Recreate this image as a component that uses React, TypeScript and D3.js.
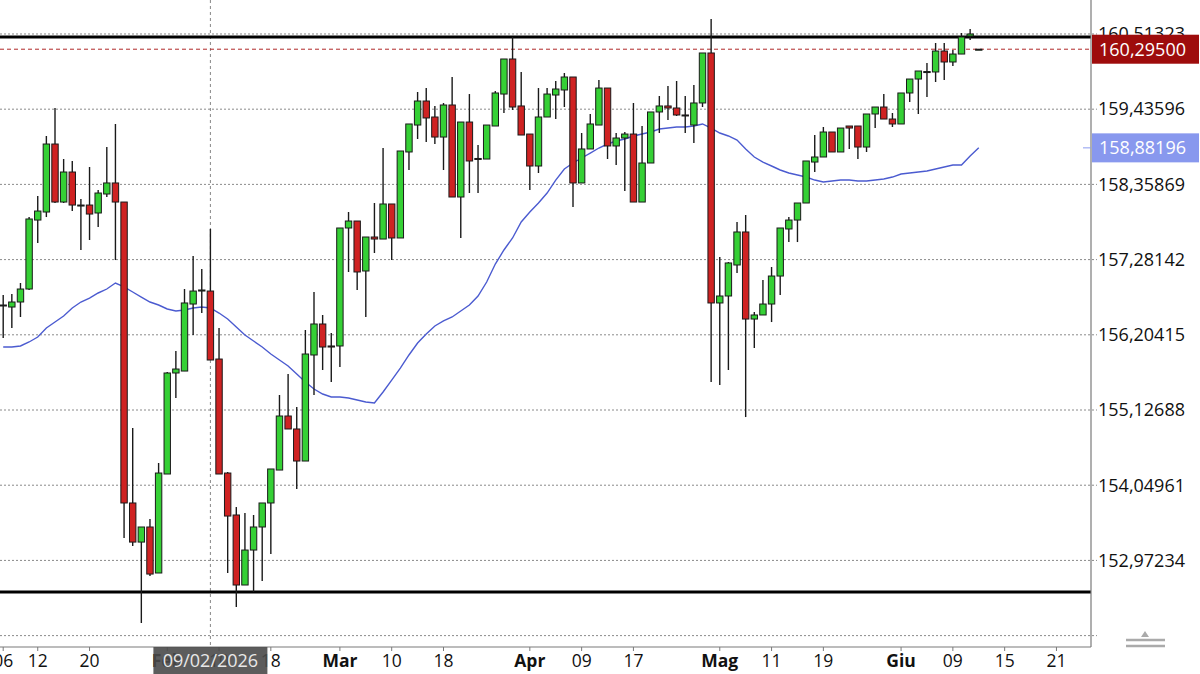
import React from "react";
import * as d3 from "d3";

// daily candles, first one is 06/01/2026 (trading days only)
const open = [
  156.617, 156.602, 156.674, 156.86, 157.848, 157.963, 158.937, 158.106, 158.536, 158.056,
  158.063, 157.949, 158.221, 158.379, 158.106, 153.795, 153.235, 153.451, 152.792, 154.21,
  155.657, 155.685, 156.645, 156.831, 156.831, 155.857, 154.224, 153.623, 152.62, 153.121,
  153.451, 153.795, 154.267, 155.041, 154.855, 154.396, 155.915, 156.359, 156.044, 156.044,
  157.734, 157.834, 157.118, 157.605, 157.576, 158.078, 157.591, 158.823, 159.209, 159.553,
  159.324, 159.037, 159.496, 158.178, 159.252, 158.73, 158.722, 159.195, 159.653, 160.155,
  159.482, 159.08, 158.622, 159.324, 159.639, 159.711, 159.897, 158.379, 158.866, 159.209,
  159.739, 158.909, 159.023, 159.08, 158.106, 158.665, 159.396, 159.482, 159.453, 159.353,
  159.209, 159.525, 160.241, 156.66, 156.76, 157.204, 157.677, 156.43, 156.488, 156.645,
  157.046, 157.72, 157.848, 158.092, 158.679, 158.751, 159.109, 158.823, 159.195, 159.195,
  158.894, 159.367, 159.467, 159.295, 159.224, 159.668, 159.868, 159.969, 159.969, 160.269,
  160.112, 160.226, 160.484, 160.295,
];
const high = [
  156.774, 156.788, 156.946, 157.891, 158.192, 159.052, 159.453, 158.722, 158.694, 158.149,
  158.608, 158.278, 158.894, 159.224, 158.106, 154.869, 153.451, 153.565, 154.368, 155.672,
  155.972, 156.86, 157.333, 157.146, 157.72, 156.301, 154.239, 153.737, 153.651, 153.623,
  153.795, 154.282, 155.342, 155.642, 155.17, 156.273, 156.817, 156.488, 156.23, 157.734,
  157.963, 157.834, 157.605, 158.092, 158.88, 158.078, 158.837, 159.224, 159.682, 159.739,
  159.482, 159.525, 159.897, 159.252, 159.653, 158.923, 159.209, 159.696, 160.155, 160.47,
  159.969, 159.08, 159.739, 159.739, 159.84, 159.954, 159.897, 159.095, 159.367, 159.854,
  159.739, 159.095, 159.109, 159.525, 159.195, 159.396, 159.625, 159.768, 159.84, 159.625,
  159.782, 160.241, 160.728, 157.318, 157.247, 157.82, 157.92, 156.531, 156.989, 157.175,
  157.734, 157.891, 158.092, 158.694, 159.066, 159.181, 159.109, 159.166, 159.195, 159.195,
  159.367, 159.467, 159.653, 159.381, 159.668, 159.868, 159.983, 160.098, 160.384, 160.384,
  160.284, 160.527, 160.585, 160.295,
];
const low = [
  156.158, 156.301, 156.459, 156.846, 157.519, 157.891, 158.092, 158.092, 157.977, 157.419,
  157.562, 157.748, 158.178, 157.275, 153.293, 153.178, 152.076, 152.749, 152.792, 154.21,
  155.299, 155.685, 156.201, 156.516, 155.843, 154.21, 152.792, 152.305, 152.62, 152.52,
  152.677, 153.064, 154.267, 154.855, 153.995, 154.396, 155.342, 155.7, 155.528, 155.743,
  157.104, 156.846, 156.459, 157.376, 157.576, 157.275, 157.591, 158.565, 159.009, 158.966,
  158.937, 158.565, 158.178, 157.591, 158.235, 158.235, 158.722, 159.195, 159.381, 159.424,
  159.066, 158.278, 158.522, 159.324, 159.295, 159.467, 158.035, 158.379, 158.866, 159.209,
  158.722, 158.636, 158.264, 158.106, 158.106, 158.665, 159.095, 159.281, 159.338, 159.095,
  158.952, 159.467, 155.528, 155.485, 155.7, 157.089, 155.026, 156.015, 156.488, 156.387,
  156.774, 157.533, 157.533, 158.092, 158.536, 158.751, 158.823, 158.823, 158.866, 158.722,
  158.823, 159.166, 159.295, 159.181, 159.224, 159.539, 159.367, 159.61, 159.825, 159.854,
  160.055, 160.226, 160.427, 160.295,
];
const close = [
  156.631, 156.674, 156.86, 157.863, 157.977, 158.937, 158.106, 158.536, 158.063, 158.063,
  157.934, 158.235, 158.379, 158.106, 153.795, 153.235, 153.451, 152.777, 154.224, 155.657,
  155.714, 156.66, 156.831, 156.846, 155.843, 154.21, 153.608, 152.62, 153.121, 153.451,
  153.795, 154.282, 155.041, 154.855, 154.396, 155.929, 156.359, 156.029, 156.029, 157.734,
  157.834, 157.104, 157.605, 157.576, 158.078, 157.591, 158.837, 159.224, 159.553, 159.31,
  159.037, 159.496, 158.178, 159.252, 158.694, 158.722, 159.209, 159.668, 160.155, 159.467,
  159.066, 158.622, 159.324, 159.653, 159.725, 159.897, 158.379, 158.866, 159.224, 159.739,
  158.909, 159.023, 159.08, 158.106, 158.665, 159.396, 159.482, 159.453, 159.353, 159.346,
  159.525, 160.241, 156.66, 156.76, 157.233, 157.677, 156.43, 156.488, 156.645, 157.046,
  157.734, 157.848, 158.092, 158.694, 158.751, 159.109, 158.823, 159.166, 159.166, 158.894,
  159.367, 159.467, 159.295, 159.224, 159.668, 159.868, 159.983, 159.975, 160.269, 160.112,
  160.226, 160.47, 160.513, 160.295,
];
// moving average as drawn on the chart
const movingAvg = [
  156.029, 156.029, 156.044, 156.101, 156.172, 156.301, 156.387, 156.473, 156.588, 156.674,
  156.731, 156.803, 156.86, 156.946, 156.889, 156.817, 156.745, 156.674, 156.631, 156.574,
  156.545, 156.559, 156.588, 156.602, 156.588, 156.516, 156.43, 156.316, 156.201, 156.115,
  156.029, 155.929, 155.843, 155.757, 155.642, 155.528, 155.428, 155.356, 155.313, 155.313,
  155.299, 155.27, 155.241, 155.227, 155.385, 155.556, 155.728, 155.915, 156.087, 156.215,
  156.33, 156.402, 156.459, 156.545, 156.631, 156.76, 156.96, 157.218, 157.419, 157.591,
  157.82, 157.963, 158.092, 158.235, 158.421, 158.579, 158.665, 158.737, 158.808, 158.88,
  158.937, 158.98, 159.009, 159.052, 159.08, 159.109, 159.152, 159.166, 159.181, 159.181,
  159.195, 159.224, 159.166, 159.095, 159.052, 158.994, 158.866, 158.751, 158.679, 158.622,
  158.565, 158.522, 158.493, 158.464, 158.421, 158.393, 158.407, 158.421, 158.421, 158.407,
  158.407, 158.421, 158.436, 158.464, 158.507, 158.522, 158.536, 158.55, 158.579, 158.608,
  158.636, 158.636, 158.765, 158.88196,
];

const gridValues = [
  151.89507, 152.97234, 154.04961, 155.12688, 156.20415, 157.28142, 158.35869, 159.43596,
  160.51323,
];
const tickLabels = ["06", "12", "20", "Feb", "10", "18", "Mar", "10", "18", "Apr", "09", "17", "Mag", "11", "19", "Giu", "09", "15", "21"];
const tickIndex = [0, 4, 10, 19, 25, 31, 39, 45, 51, 61, 67, 73, 83, 89, 95, 104, 110, 116, 122];
const months = ["Feb", "Mar", "Apr", "Mag", "Giu"];

const resistance = 160.47;
const support = 152.52;
const lastPrice = 160.295;
const maLast = 158.88196;
const crosshairIndex = 24;
const crosshairLabel = "09/02/2026";

const W = 1200;
const H = 674;
const plotW = 1091;
const plotH = 647;
const font = "'Open Sans', 'Noto Sans', sans-serif";

const fmt = (v: number) => v.toFixed(5).replace(".", ",");

export default function App() {
  const x = d3.scaleLinear().domain([-0.371, 126]).range([0, plotW]);
  const y = d3.scaleLinear().domain([151.732, 161.0]).range([plotH, 0]);

  const maLine = d3
    .line<number>()
    .x((_, i) => x(i))
    .y((d) => y(d));

  const bodyW = 6.4;

  return (
    <svg
      width={W}
      height={H}
      style={{ position: "absolute", left: 0, top: 0, background: "#fff" }}
      fontFamily={font}
    >
      <defs>
        <clipPath id="plot">
          <rect x={0} y={0} width={plotW} height={plotH} />
        </clipPath>
      </defs>

      {/* grid */}
      {gridValues.map((v) => (
        <line
          key={v}
          x1={0}
          x2={plotW + 6}
          y1={y(v)}
          y2={y(v)}
          stroke="#8a8a8a"
          strokeWidth={1}
          strokeDasharray="2,2"
        />
      ))}

      {/* crosshair */}
      <line
        x1={x(crosshairIndex)}
        x2={x(crosshairIndex)}
        y1={0}
        y2={plotH}
        stroke="#888"
        strokeWidth={1}
        strokeDasharray="3,3"
      />

      <g clipPath="url(#plot)">
        {/* support / resistance */}
        <line x1={0} x2={plotW} y1={y(resistance)} y2={y(resistance)} stroke="#000" strokeWidth={3} />
        <line x1={0} x2={plotW} y1={y(support)} y2={y(support)} stroke="#000" strokeWidth={3} />
        <line
          x1={0}
          x2={plotW}
          y1={y(lastPrice)}
          y2={y(lastPrice)}
          stroke="#b02828"
          strokeWidth={1}
          strokeDasharray="4,3"
        />

        <path d={maLine(movingAvg) ?? ""} fill="none" stroke="#4b5bd0" strokeWidth={1.4} />

        {open.map((o, i) => {
          const c = close[i];
          const up = c >= o;
          const cx = x(i);
          const top = y(Math.max(o, c));
          const h = Math.max(Math.abs(y(o) - y(c)), 1);
          return (
            <g key={i}>
              <line x1={cx} x2={cx} y1={y(high[i])} y2={y(low[i])} stroke="#1a1a1a" strokeWidth={1.4} />
              <rect
                x={cx - bodyW / 2}
                y={top}
                width={bodyW}
                height={h}
                fill={up ? "#35d035" : "#cf2222"}
                stroke="#1a1a1a"
                strokeWidth={1}
              />
            </g>
          );
        })}
      </g>

      {/* axes */}
      <line x1={plotW} x2={plotW} y1={0} y2={plotH} stroke="#7a7a7a" strokeWidth={1.2} />
      <line x1={0} x2={plotW} y1={plotH} y2={plotH} stroke="#7a7a7a" strokeWidth={1.2} />

      {gridValues
        .filter((v) => v > 152.5)
        .map((v) => (
          <text key={v} x={plotW + 7} y={y(v)} dy="0.35em" fontSize={18} fill="#111">
            {fmt(v)}
          </text>
        ))}

      {tickLabels.map((t, k) => {
        const tx = x(tickIndex[k]);
        const bold = months.includes(t);
        return (
          <g key={k}>
            <line x1={tx} x2={tx} y1={plotH} y2={plotH + 4} stroke="#7a7a7a" strokeWidth={1} />
            <text
              x={tx}
              y={661}
              dy="0.35em"
              textAnchor="middle"
              fontSize={17.5}
              fontWeight={bold ? 700 : 400}
              fill="#111"
            >
              {t}
            </text>
          </g>
        );
      })}

      {/* crosshair date tag */}
      <rect x={x(crosshairIndex) - 57} y={plotH} width={114} height={27} fill="#4a4a4a" opacity={0.9} />
      <text
        x={x(crosshairIndex)}
        y={661}
        dy="0.35em"
        textAnchor="middle"
        fontSize={18}
        fill="#e8e8e8"
      >
        {crosshairLabel}
      </text>

      {/* last price tag */}
      <rect x={plotW + 1} y={y(lastPrice) - 14.5} width={W - plotW - 2} height={29} fill="#9e0c0c" />
      <text x={plotW + 8} y={y(lastPrice)} dy="0.35em" fontSize={18} fill="#fff">
        {fmt(lastPrice)}
      </text>

      {/* moving average tag */}
      <line x1={plotW - 8} x2={plotW} y1={y(maLast)} y2={y(maLast)} stroke="#8c9cf0" strokeWidth={1} />
      <rect x={plotW + 1} y={y(maLast) - 14.5} width={W - plotW - 2} height={29} fill="#8898ee" />
      <text x={plotW + 8} y={y(maLast)} dy="0.35em" fontSize={18} fill="#fff">
        {fmt(maLast)}
      </text>

      {/* corner icon */}
      <g fill="#aaa" stroke="#aaa">
        <line x1={1126} x2={1165} y1={640} y2={640} strokeWidth={2.5} />
        <line x1={1126} x2={1165} y1={646} y2={646} strokeWidth={2.5} />
        <path d="M1141,637 L1149,637 L1145,631 Z" stroke="none" />
      </g>
    </svg>
  );
}
